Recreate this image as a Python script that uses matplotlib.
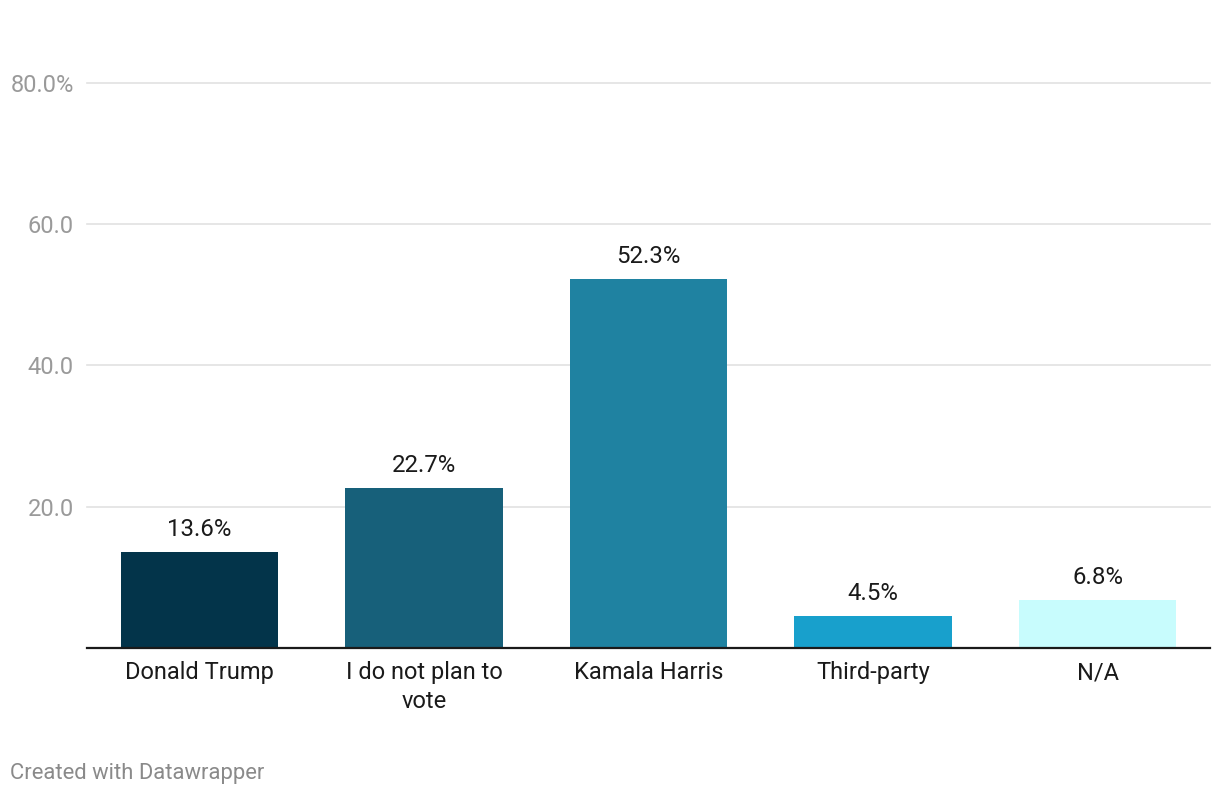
import matplotlib.pyplot as plt
from matplotlib.ticker import FuncFormatter

plt.rcParams['font.family'] = ['Roboto', 'DejaVu Sans']

# data
categories = ["Donald Trump", "I do not plan to\nvote", "Kamala Harris", "Third-party", "N/A"]
shares = [13.6, 22.7, 52.3, 4.5, 6.8]
bar_colors = ["#03344a", "#17607a", "#1f82a1", "#18a0cc", "#c8fcfd"]
y_ticks = [20, 40, 60, 80]

W, H = 1220, 796
fig = plt.figure(figsize=(W / 100, H / 100), dpi=100)
ax = fig.add_axes([87 / W, (H - 648) / H, (1210 - 87) / W, (648 - 83) / H])

xs = range(len(categories))
ax.bar(xs, shares, width=0.7, color=bar_colors, zorder=3)

for x, v in zip(xs, shares):
    ax.annotate(f"{v:.1f}%", (x, v), xytext=(0, 8), textcoords="offset points",
                ha="center", va="bottom", fontsize=17.3, color="#1a1a1a")

ax.set_xlim(-0.5, len(categories) - 0.5)
ax.set_ylim(0, 80)
ax.set_yticks(y_ticks)
ax.yaxis.set_major_formatter(FuncFormatter(lambda v, p: f"{v:.1f}%" if v == 80 else f"{v:.1f}"))
ax.grid(axis="y", color="#e1e1e1", linewidth=1.2, zorder=0)
for gl in ax.get_ygridlines():
    gl.set_clip_on(False)

ax.set_xticks(list(xs))
ax.set_xticklabels(categories, fontsize=17, color="#1a1a1a", linespacing=1.32)
ax.tick_params(axis="x", length=0, pad=9.5)
ax.tick_params(axis="y", length=0, pad=9.4, labelsize=17, labelcolor="#9a9a9a")

for s in ["top", "right", "left"]:
    ax.spines[s].set_visible(False)
ax.spines["bottom"].set_color("#1a1a1a")
ax.spines["bottom"].set_linewidth(1.6)
ax.spines["bottom"].set_zorder(4)

fig.text(10 / W, 1 - 773.5 / H, "Created with Datawrapper", fontsize=15.8,
         color="#8a8a8a", ha="left", va="center")

fig.savefig("out.png", dpi=100, facecolor="white")
